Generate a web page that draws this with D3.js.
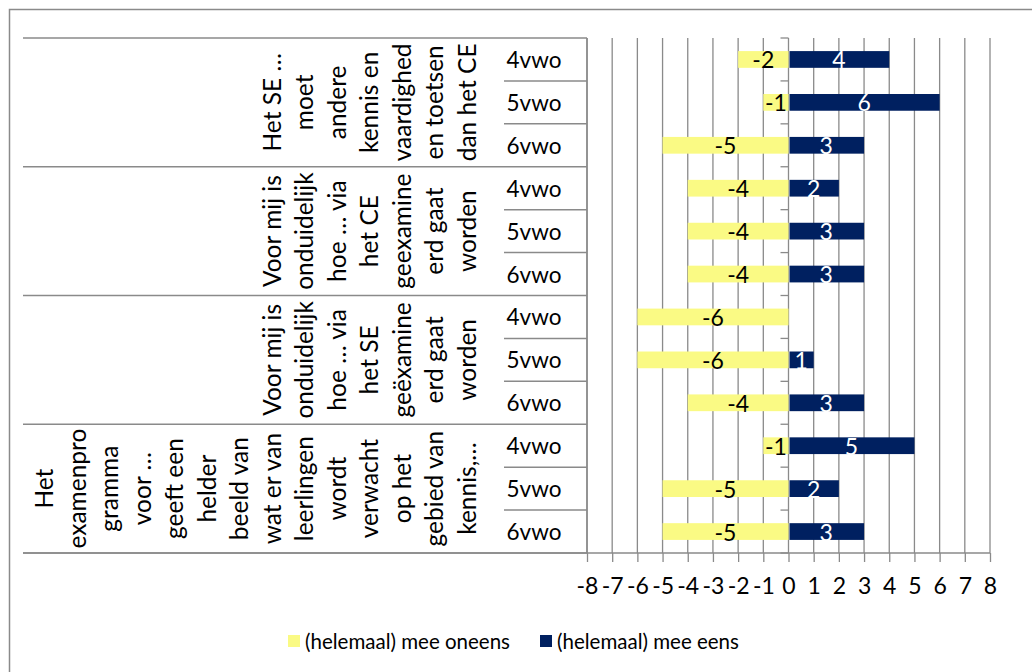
<!DOCTYPE html>
<html>
<head>
<meta charset="utf-8">
<script src="https://cdn.jsdelivr.net/npm/d3@7"></script>
<style>
  html, body { margin: 0; padding: 0; background: #fff; }
  svg { display: block; font-family: Lato, "Open Sans", sans-serif; }
</style>
</head>
<body>
<svg id="chart" width="1032" height="672"></svg>
<script>
// Statement labels, already wrapped line by line (top group first)
const statementLines = [
  ["Het SE …", "moet", "andere", "kennis en", "vaardighed", "en toetsen", "dan het CE"],
  ["Voor mij is", "onduidelijk", "hoe … via", "het CE", "geexamine", "erd gaat", "worden"],
  ["Voor mij is", "onduidelijk", "hoe … via", "het SE", "geëxamine", "erd gaat", "worden"],
  ["Het", "examenpro", "gramma", "voor …", "geeft een", "helder", "beeld van", "wat er van", "leerlingen", "wordt", "verwacht", "op het", "gebied van", "kennis,…"]
];
const yearLabels = ["4vwo", "5vwo", "6vwo"];

// Counts per row, top to bottom (disagree shown as negative)
const disagree = [-2, -1, -5, -4, -4, -4, -6, -6, -4, -1, -5, -5];
const agree    = [ 4,  6,  3,  2,  3,  3,  0,  1,  3,  5,  2,  3];

const seriesNames = ["(helemaal) mee oneens", "(helemaal) mee eens"];
const seriesColors = ["#FAFA84", "#002060"];
const xTicks = d3.range(-8, 9);

const svg = d3.select("#chart");
const lineGray = "#8a8a8a";

// Chart frame
svg.append("rect")
  .attr("x", 9.5).attr("y", 9.5).attr("width", 1100).attr("height", 800)
  .attr("fill", "#fff").attr("stroke", lineGray).attr("stroke-width", 1.5);

const rows = d3.range(disagree.length);
const x = d3.scaleLinear().domain([-8, 8]).range([587, 990]);
const yRow = d3.scaleBand().domain(rows).range([38, 553]);
const yBar = d3.scaleBand().domain(rows).range([38, 553]).paddingInner(0.61).paddingOuter(0.305);
const plotTop = yRow.range()[0], plotBottom = yRow.range()[1];

// Vertical gridlines
svg.append("g").selectAll("line").data(xTicks).join("line")
  .attr("x1", d => x(d)).attr("x2", d => x(d))
  .attr("y1", plotTop).attr("y2", plotBottom)
  .attr("stroke", lineGray).attr("stroke-width", 1.3);

// Bottom value axis
const xAxis = svg.append("g")
  .attr("transform", `translate(0,${plotBottom})`)
  .call(d3.axisBottom(x).tickValues(xTicks).tickSize(9).tickPadding(16)
    .tickFormat(d => String(d)));
xAxis.select(".domain").remove();
xAxis.selectAll(".tick line").attr("stroke", lineGray).attr("stroke-width", 1.3);
xAxis.selectAll(".tick text")
  .attr("font-family", "Lato, sans-serif").attr("font-size", 23).attr("fill", "#000");

svg.append("line")
  .attr("x1", 23).attr("x2", x(8)).attr("y1", plotBottom).attr("y2", plotBottom)
  .attr("stroke", lineGray).attr("stroke-width", 1.5);

// Category axis: vertical line and row separators
svg.append("line")
  .attr("x1", x(-8)).attr("x2", x(-8)).attr("y1", plotTop).attr("y2", plotBottom)
  .attr("stroke", lineGray).attr("stroke-width", 1.5);

const boundaries = d3.range(rows.length + 1);
const boundaryY = k => k < rows.length ? yRow(k) : plotBottom;
svg.append("g").selectAll("line").data(boundaries).join("line")
  .attr("x1", k => (k % yearLabels.length === 0) ? 23 : 504)
  .attr("x2", x(-8))
  .attr("y1", boundaryY).attr("y2", boundaryY)
  .attr("stroke", lineGray).attr("stroke-width", 1.5);

// Category tick marks along the zero line
svg.append("g").selectAll("line").data(boundaries).join("line")
  .attr("x1", x(0) - 8).attr("x2", x(0))
  .attr("y1", boundaryY).attr("y2", boundaryY)
  .attr("stroke", lineGray).attr("stroke-width", 1.3);

// Year labels
svg.append("g").selectAll("text").data(rows).join("text")
  .attr("x", 534)
  .attr("y", r => yRow(r) + yRow.bandwidth() / 2)
  .attr("text-anchor", "middle").attr("dominant-baseline", "central")
  .attr("font-size", 22.5).attr("fill", "#000")
  .text(r => yearLabels[r % yearLabels.length]);

// Rotated statement labels, last line next to the year column
const lineStep = 32.5, lastLineX = 466;
statementLines.forEach((lines, g) => {
  const y0 = yRow(g * yearLabels.length);
  const y1 = boundaryY((g + 1) * yearLabels.length);
  const cy = (y0 + y1) / 2;
  svg.append("g").selectAll("text").data(lines).join("text")
    .attr("transform", (d, i) => `translate(${lastLineX - (lines.length - 1 - i) * lineStep},${cy}) rotate(-90)`)
    .attr("text-anchor", "middle").attr("dominant-baseline", "central")
    .attr("font-size", 24.5).attr("fill", "#000")
    .text(d => d);
});

// Bars
const barG = svg.append("g");
barG.selectAll("rect.dis").data(rows).join("rect").attr("class", "dis")
  .attr("x", r => x(Math.min(0, disagree[r])))
  .attr("width", r => Math.abs(x(disagree[r]) - x(0)))
  .attr("y", r => yBar(r)).attr("height", yBar.bandwidth())
  .attr("fill", seriesColors[0]);
barG.selectAll("rect.agr").data(rows.filter(r => agree[r] !== 0)).join("rect").attr("class", "agr")
  .attr("x", x(0) + 1)
  .attr("width", r => x(agree[r]) - x(0) - 1)
  .attr("y", r => yBar(r)).attr("height", yBar.bandwidth())
  .attr("fill", seriesColors[1]);

// Value labels
svg.append("g").selectAll("text").data(rows.filter(r => disagree[r] !== 0)).join("text")
  .attr("x", r => x(disagree[r] / 2))
  .attr("y", r => yBar(r) + yBar.bandwidth() / 2)
  .attr("text-anchor", "middle").attr("dominant-baseline", "central")
  .attr("font-size", 23).attr("fill", "#000")
  .text(r => String(disagree[r]));
svg.append("g").selectAll("text").data(rows.filter(r => agree[r] !== 0)).join("text")
  .attr("x", r => x(agree[r] / 2))
  .attr("y", r => yBar(r) + yBar.bandwidth() / 2)
  .attr("text-anchor", "middle").attr("dominant-baseline", "central")
  .attr("font-size", 23).attr("fill", "#fff")
  .text(r => String(agree[r]));

// Legend
const legendX = [288, 540];
const legend = svg.append("g").selectAll("g").data(seriesNames).join("g")
  .attr("transform", (d, i) => `translate(${legendX[i]},635)`);
legend.append("rect").attr("width", 12).attr("height", 12)
  .attr("fill", (d, i) => seriesColors[i]);
legend.append("text")
  .attr("x", 17).attr("y", 6)
  .attr("dominant-baseline", "central")
  .attr("font-size", 20.5).attr("fill", "#000")
  .text(d => d);
</script>
</body>
</html>
